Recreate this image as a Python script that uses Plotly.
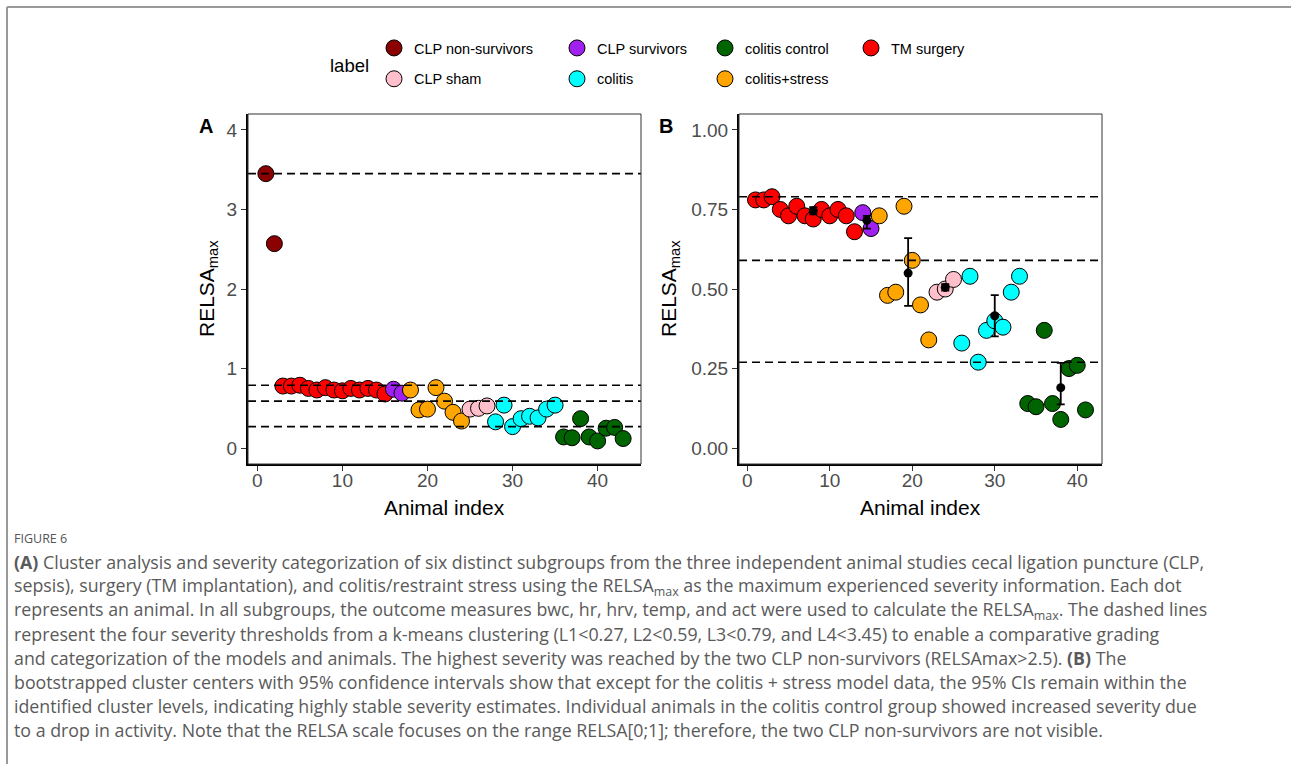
import plotly.graph_objects as go

# ---------------- data ----------------
animal_label = (
    ["CLP non-survivors"] * 2
    + ["TM surgery"] * 13
    + ["CLP survivors"] * 2
    + ["colitis+stress"] * 7
    + ["CLP sham"] * 3
    + ["colitis"] * 8
    + ["colitis control"] * 8
)
relsa_max = [
    3.45, 2.57,
    0.78, 0.78, 0.79, 0.75, 0.73, 0.76, 0.73, 0.72, 0.75, 0.73, 0.75, 0.73, 0.68,
    0.74, 0.69,
    0.73, 0.48, 0.49, 0.76, 0.59, 0.45, 0.34,
    0.49, 0.50, 0.53,
    0.33, 0.54, 0.27, 0.37, 0.40, 0.38, 0.49, 0.54,
    0.14, 0.13, 0.37, 0.14, 0.09, 0.25, 0.26, 0.12,
]
thresholds = [0.27, 0.59, 0.79, 3.45]

# bootstrapped cluster centres (panel B)
center_x = [8, 14.5, 19.5, 24, 30, 38]
center_y = [0.746, 0.716, 0.55, 0.505, 0.416, 0.19]
ci_low = [0.735, 0.69, 0.447, 0.495, 0.351, 0.1375]
ci_high = [0.757, 0.73, 0.66, 0.515, 0.481, 0.268]

group_order = ["CLP non-survivors", "TM surgery", "CLP survivors", "colitis+stress",
               "CLP sham", "colitis", "colitis control"]
group_colors = {
    "CLP non-survivors": "#8B0000",
    "CLP survivors": "#A020F0",
    "colitis control": "#006400",
    "TM surgery": "#FF0000",
    "CLP sham": "#FFC0CB",
    "colitis": "#00FFFF",
    "colitis+stress": "#FFA500",
}
# legend placement (column legend, rank within column)
legend_slot = {
    "CLP non-survivors": ("legend", 1),
    "CLP sham": ("legend", 2),
    "CLP survivors": ("legend2", 1),
    "colitis": ("legend2", 2),
    "colitis control": ("legend3", 1),
    "colitis+stress": ("legend3", 2),
    "TM surgery": ("legend4", 1),
}

# ---------------- derived indices ----------------
index_a = list(range(1, len(relsa_max) + 1))
keep_b = [i for i, lab in enumerate(animal_label) if lab != "CLP non-survivors"]
index_b = list(range(1, len(keep_b) + 1))
label_b = [animal_label[i] for i in keep_b]
relsa_b = [relsa_max[i] for i in keep_b]

W, H = 1291, 764
def px(x):
    return x / W
def py(y):
    return 1 - y / H

fig = go.Figure()

for g in group_order:
    xs = [index_a[i] for i, lab in enumerate(animal_label) if lab == g]
    ys = [relsa_max[i] for i, lab in enumerate(animal_label) if lab == g]
    leg, rank = legend_slot[g]
    fig.add_trace(go.Scatter(
        x=xs, y=ys, mode="markers", name=g, xaxis="x", yaxis="y",
        legend=leg, legendrank=rank, legendgroup=g,
        marker=dict(size=16, color=group_colors[g], line=dict(color="black", width=1)),
    ))

for g in group_order:
    xs = [index_b[i] for i, lab in enumerate(label_b) if lab == g]
    ys = [relsa_b[i] for i, lab in enumerate(label_b) if lab == g]
    if not xs:
        continue
    fig.add_trace(go.Scatter(
        x=xs, y=ys, mode="markers", name=g, xaxis="x2", yaxis="y2",
        showlegend=False, legendgroup=g,
        marker=dict(size=16, color=group_colors[g], line=dict(color="black", width=1)),
    ))

fig.add_trace(go.Scatter(
    x=center_x, y=center_y, mode="markers", xaxis="x2", yaxis="y2", showlegend=False,
    marker=dict(size=9, color="black"),
    error_y=dict(type="data", symmetric=False,
                 array=[h - c for h, c in zip(ci_high, center_y)],
                 arrayminus=[c - l for l, c in zip(ci_low, center_y)],
                 color="black", thickness=1.8, width=4),
))

# threshold lines
for t in thresholds:
    fig.add_shape(type="line", xref="x domain", yref="y", x0=0, x1=1, y0=t, y1=t,
                  line=dict(color="black", width=1.6, dash="8px,5px"))
    if t <= 1.05:
        fig.add_shape(type="line", xref="x2 domain", yref="y2", x0=0, x1=1, y0=t, y1=t,
                      line=dict(color="black", width=1.6, dash="8px,5px"))

# panel borders
for xr, yr in [("x domain", "y domain"), ("x2 domain", "y2 domain")]:
    fig.add_shape(type="rect", xref=xr, yref=yr, x0=0, x1=1, y0=0, y1=1,
                  line=dict(color="#333333", width=1), fillcolor="rgba(0,0,0,0)")

# figure frame (page)
fig.add_shape(type="line", xref="paper", yref="paper", x0=px(7), x1=1, y0=py(7), y1=py(7),
              line=dict(color="#999999", width=2))
fig.add_shape(type="line", xref="paper", yref="paper", x0=px(7), x1=px(7), y0=py(7), y1=0,
              line=dict(color="#999999", width=2))

FONT = "Liberation Sans, Arial, sans-serif"
tick_font = dict(family=FONT, size=19, color="#4D4D4D")
axis_common = dict(showgrid=False, zeroline=False, showline=True, linecolor="black",
                   linewidth=2, ticks="outside", ticklen=5, tickwidth=1.2, tickcolor="#333333",
                   tickfont=tick_font)

ydom = [py(464), py(114)]
fig.update_layout(
    width=W, height=H, margin=dict(l=0, r=0, t=0, b=0),
    paper_bgcolor="white", plot_bgcolor="white",
    font=dict(family=FONT, color="black"),
    xaxis=dict(domain=[px(248), px(641)], range=[-1.1, 45.1], tickvals=[0, 10, 20, 30, 40],
               anchor="y", ticklabelstandoff=-7, **axis_common),
    yaxis=dict(domain=ydom, range=[-0.2, 4.2], tickvals=[0, 1, 2, 3, 4], anchor="x",
               **axis_common),
    xaxis2=dict(domain=[px(739), px(1102)], range=[-1, 43], tickvals=[0, 10, 20, 30, 40],
                anchor="y2", ticklabelstandoff=-7, **axis_common),
    yaxis2=dict(domain=ydom, range=[-0.05, 1.05], tickvals=[0, 0.25, 0.5, 0.75, 1.0],
                tickformat=".2f", anchor="x2", **axis_common),
    showlegend=True,
)

leg_common = dict(orientation="v", bgcolor="rgba(0,0,0,0)", borderwidth=0,
                  font=dict(family=FONT, size=14.5, color="black"),
                  tracegroupgap=9, itemsizing="trace", traceorder="grouped",
                  xanchor="left", yanchor="top", y=py(32))
fig.update_layout(
    legend=dict(x=px(392 - 18), **leg_common),
    legend2=dict(x=px(575 - 18), **leg_common),
    legend3=dict(x=px(723 - 18), **leg_common),
    legend4=dict(x=px(869 - 18), **leg_common),
)

def note(text, x, y, size, color="black", xanchor="center", yanchor="middle", **kw):
    return dict(text=text, x=px(x), y=py(y), xref="paper", yref="paper",
                xanchor=xanchor, yanchor=yanchor, showarrow=False,
                font=dict(family=kw.pop("family", FONT), size=size, color=color), **kw)

ann = []
ann.append(note("label", 349, 65, 18.5))
ann.append(note("<b>A</b>", 206, 126, 20))
ann.append(note("<b>B</b>", 666, 126, 20))
for cx in [444.5, 920.5]:
    ann.append(note("Animal index", cx, 507, 21))
for cx in [208, 670]:
    ann.append(note("RELSA<sub>max</sub>", cx, 289, 21, textangle=-90))

CAP_FONT = "Open Sans, Noto Sans, sans-serif"
ann.append(note("FIGURE 6", 12, 538, 12.5, color="#555555", xanchor="left", family=CAP_FONT))
caption_lines = [
    "<b>(A)</b> Cluster analysis and severity categorization of six distinct subgroups from the three independent animal studies cecal ligation puncture (CLP,",
    "sepsis), surgery (TM implantation), and colitis/restraint stress using the RELSA<sub>max</sub> as the maximum experienced severity information. Each dot",
    "represents an animal. In all subgroups, the outcome measures bwc, hr, hrv, temp, and act were used to calculate the RELSA<sub>max</sub>. The dashed lines",
    "represent the four severity thresholds from a k-means clustering (L1&lt;0.27, L2&lt;0.59, L3&lt;0.79, and L4&lt;3.45) to enable a comparative grading",
    "and categorization of the models and animals. The highest severity was reached by the two CLP non-survivors (RELSAmax&gt;2.5). <b>(B)</b> The",
    "bootstrapped cluster centers with 95% confidence intervals show that except for the colitis + stress model data, the 95% CIs remain within the",
    "identified cluster levels, indicating highly stable severity estimates. Individual animals in the colitis control group showed increased severity due",
    "to a drop in activity. Note that the RELSA scale focuses on the range RELSA[0;1]; therefore, the two CLP non-survivors are not visible.",
]
for k, line in enumerate(caption_lines):
    ann.append(note(line, 12, 562 + 24 * k, 17.8, color="#5a5a5a", xanchor="left",
                    family=CAP_FONT))
fig.update_layout(annotations=ann)

fig.write_html("out.html", config={"displayModeBar": False},
               post_script="document.body.style.margin='0';document.body.style.overflow='hidden';")
